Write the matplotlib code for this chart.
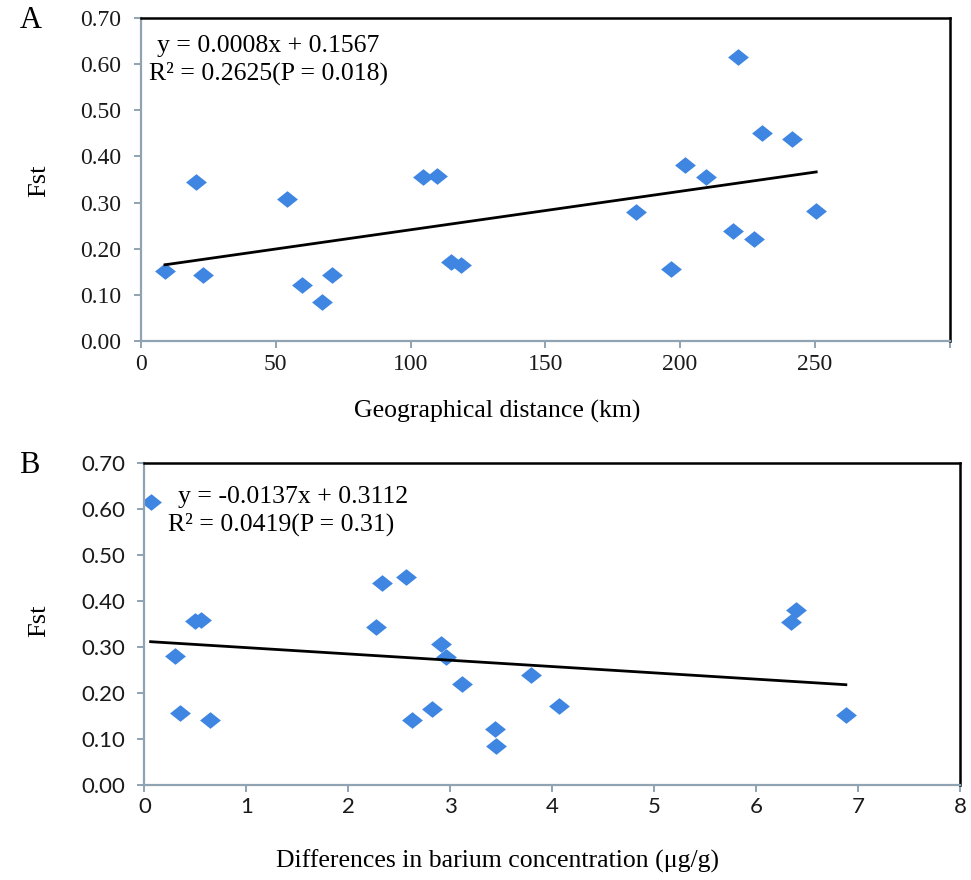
import numpy as np
import matplotlib
matplotlib.use("Agg")
import matplotlib.pyplot as plt

# panel A: geographical distance (km) vs Fst
dist_km = [8.9, 20.4, 23.0, 54.3, 59.9, 67.2, 71.0, 104.8, 109.7, 115.0, 118.6,
           183.7, 196.7, 201.7, 209.5, 219.5, 221.3, 227.6, 230.4, 241.4, 250.5]
fst_a = [0.152, 0.344, 0.142, 0.307, 0.121, 0.085, 0.142, 0.356, 0.358, 0.171, 0.164,
         0.279, 0.155, 0.381, 0.356, 0.239, 0.615, 0.220, 0.451, 0.438, 0.282]
eq_a = ["y = 0.0008x + 0.1567", "R\u00b2 = 0.2625(P = 0.018)"]

# panel B: differences in barium concentration vs Fst
ba_diff = [0.06, 0.30, 0.35, 0.50, 0.55, 0.64, 2.27, 2.33, 2.57, 2.62, 2.82,
           2.91, 2.96, 3.11, 3.44, 3.45, 3.79, 4.07, 6.34, 6.39, 6.88]
fst_b = [0.615, 0.280, 0.156, 0.357, 0.359, 0.141, 0.343, 0.438, 0.451, 0.142, 0.165,
         0.307, 0.278, 0.220, 0.121, 0.085, 0.238, 0.171, 0.355, 0.381, 0.153]
eq_b = ["y = -0.0137x + 0.3112", "R\u00b2 = 0.0419(P = 0.31)"]

yticks = np.arange(0, 0.71, 0.1)

blue = "#3F86E2"
axcol = "#8FA3B3"
serif = "Liberation Serif"
sans = ["Lato", "DejaVu Sans"]

# diamond a bit wider than tall, like the original
diamond = [(-1, 0), (0, 0.8), (1, 0), (0, -0.8), (-1, 0)]

fig = plt.figure(figsize=(9.71, 8.8), dpi=100)


def style_axes(ax, tick_font, size):
    for s in ["left", "bottom"]:
        ax.spines[s].set_color(axcol)
        ax.spines[s].set_linewidth(1.6)
    for s in ["top", "right"]:
        ax.spines[s].set_color("black")
        ax.spines[s].set_linewidth(1.8)
    ax.tick_params(direction="out", length=5, width=1.4, color=axcol,
                   labelsize=size, labelcolor="#1a1a1a")
    ax.tick_params(axis="y", pad=9)
    ax.tick_params(axis="x", pad=4)
    ax.set_yticks(yticks)
    ax.set_yticklabels(["%.2f" % v for v in yticks], family=tick_font)
    ax.set_ylim(0, 0.7)


def trend(ax, x, y):
    # linear least squares line over the data range
    k, b = np.polyfit(x, y, 1)
    xx = np.array([min(x), max(x)])
    ax.plot(xx, k * xx + b, color="black", lw=2)


# ---- A ----
axa = fig.add_axes([0.1452, 0.6125, 0.8328, 0.367])
axa.plot(dist_km, fst_a, linestyle="none", marker=diamond, markersize=15,
         color=blue, markeredgewidth=0)
trend(axa, dist_km, fst_a)
axa.set_xlim(0, 300)
axa.set_xticks([0, 50, 100, 150, 200, 250, 300])
axa.set_xticklabels(["0", "50", "100", "150", "200", "250", ""], family=serif)
style_axes(axa, serif, 17)
axa.text(0.02, 0.895, eq_a[0], transform=axa.transAxes, family=serif, fontsize=18.5)
axa.text(0.01, 0.81, eq_a[1], transform=axa.transAxes, family=serif, fontsize=18.5)

# ---- B ----
axb = fig.add_axes([0.1488, 0.108, 0.8399, 0.366])
axb.plot(ba_diff, fst_b, linestyle="none", marker=diamond, markersize=15,
         color=blue, markeredgewidth=0)
trend(axb, ba_diff, fst_b)
axb.set_xlim(0, 8)
axb.set_xticks(range(9))
axb.set_xticklabels([str(i) for i in range(9)], family=sans)
style_axes(axb, sans, 16)
axb.text(0.041, 0.875, eq_b[0], transform=axb.transAxes, family=serif, fontsize=18.5)
axb.text(0.029, 0.79, eq_b[1], transform=axb.transAxes, family=serif, fontsize=18.5)

# labels
fig.text(0.02, 0.977, "A", family=serif, fontsize=22, va="center")
fig.text(0.02, 0.471, "B", family=serif, fontsize=22, va="center")
fig.text(0.04, 0.795, "Fst", family=serif, fontsize=19, rotation=90,
         ha="center", va="center")
fig.text(0.04, 0.295, "Fst", family=serif, fontsize=19, rotation=90,
         ha="center", va="center")
fig.text(0.512, 0.533, "Geographical distance (km)", family=serif, fontsize=18.5,
         ha="center", va="center")
fig.text(0.512, 0.021, "Differences in barium concentration (\u03bcg/g)",
         family=serif, fontsize=18.5, ha="center", va="center")

fig.savefig("out.png", dpi=100, facecolor="white")
